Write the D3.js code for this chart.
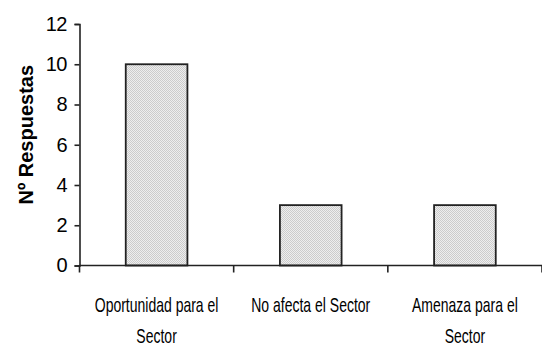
<!DOCTYPE html>
<html><head><meta charset="utf-8">
<script src="https://cdn.jsdelivr.net/npm/d3@7"></script>
<style>body{margin:0;background:#fff}svg{display:block}</style>
</head><body>
<svg id="c" width="542" height="347"></svg>
<script>
const categories = [["Oportunidad para el","Sector"],["No afecta el Sector"],["Amenaza para el","Sector"]];
const values = [10, 3, 3];
const yTicks = [0, 2, 4, 6, 8, 10, 12];

const svg = d3.select("#c");
const W = 542, H = 347;
const m = {l: 79.5, r: 0, t: 24, b: 81.5};
const x = d3.scaleBand().domain(d3.range(values.length)).range([m.l, W]).paddingInner(0).paddingOuter(0);
const y = d3.scaleLinear().domain([0, 12]).range([H - m.b, m.t]);

const defs = svg.append("defs");
const p = defs.append("pattern").attr("id","dots").attr("width",2).attr("height",2).attr("patternUnits","userSpaceOnUse");
p.append("rect").attr("width",2).attr("height",2).attr("fill","#eeeeee");
p.append("rect").attr("width",1).attr("height",1).attr("fill","#cccccc");
p.append("rect").attr("x",1).attr("y",1).attr("width",1).attr("height",1).attr("fill","#cccccc");

const bw = x.bandwidth() * 0.4;
svg.selectAll("rect.bar").data(values).join("rect").attr("class","bar")
  .attr("x", (d,i) => x(i) + (x.bandwidth() - bw)/2)
  .attr("y", d => y(d))
  .attr("width", bw)
  .attr("height", d => y(0) - y(d))
  .attr("fill", "url(#dots)")
  .attr("stroke", "#222").attr("stroke-width", 1.8);

// y axis
const ya = svg.append("g").attr("transform", `translate(${m.l},0)`)
  .call(d3.axisLeft(y).tickValues(yTicks).tickSize(5).tickPadding(7.5));
ya.select(".domain").attr("stroke","#222").attr("stroke-width",1.6);
ya.selectAll(".tick line").attr("stroke","#222").attr("stroke-width",1.6);
ya.selectAll(".tick text").attr("font-family","Liberation Sans, Arial, sans-serif").attr("font-size",20).attr("fill","#000").attr("letter-spacing",-0.5);

// x axis
const xa = svg.append("g").attr("transform", `translate(0,${y(0)})`);
xa.append("line").attr("x1", m.l).attr("x2", W).attr("stroke","#222").attr("stroke-width",1.6);
const bounds = d3.range(values.length + 1).map(i => i < values.length ? x(i) : W);
xa.selectAll("line.t").data(bounds).join("line").attr("class","t")
  .attr("x1", d => d).attr("x2", d => d).attr("y1", 0).attr("y2", 7)
  .attr("stroke","#222").attr("stroke-width",1.6);

const lab = svg.append("g");
const sx = 0.7;
categories.forEach((lines, i) => {
  lines.forEach((t, j) => {
    const cx = x(i) + x.bandwidth()/2;
    lab.append("text")
      .attr("transform", `translate(${cx},${312 + j * 31}) scale(${sx},1)`)
      .attr("text-anchor","middle")
      .attr("font-family","Liberation Sans, Arial, sans-serif")
      .attr("font-size",20)
      .attr("fill","#000")
      .text(t);
  });
});

svg.append("text")
  .attr("transform", `translate(33,${(y(0)+y(12))/2 - 10}) rotate(-90)`)
  .attr("text-anchor","middle")
  .attr("font-family","Liberation Sans, Arial, sans-serif")
  .attr("font-weight","bold").attr("font-size",20)
  .attr("fill","#000")
  .text("Nº Respuestas");
</script>
</body></html>
